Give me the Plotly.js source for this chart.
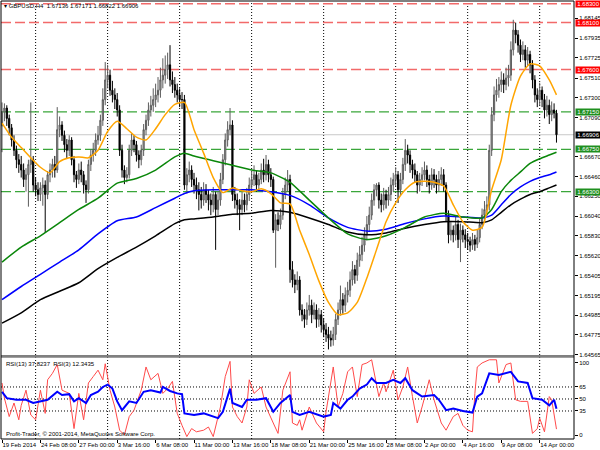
<!DOCTYPE html>
<html>
<head>
<meta charset="utf-8">
<script src="https://cdn.plot.ly/plotly-3.0.1.min.js"></script>
<style>html,body{margin:0;padding:0;background:#fff}#chart{width:600px;height:450px}</style>
</head>
<body>
<div id="chart"></div>
<script>
// ---------- DATA (GBPUSD, H4) ----------
const open = [1.6700,1.6715,1.6719,1.6708,1.6698,1.6685,1.6674,1.6664,1.6659,1.6653,
1.6643,1.6648,1.6659,1.6664,1.6637,1.6632,1.6627,1.6634,1.6637,1.6627,
1.6648,1.6653,1.6659,1.6653,1.6696,1.6701,1.6690,1.6680,1.6674,1.6685,
1.6664,1.6648,1.6643,1.6653,1.6648,1.6637,1.6632,1.6659,1.6669,1.6674,
1.6685,1.6690,1.6706,1.6728,1.6749,1.6754,1.6738,1.6733,1.6728,1.6717,
1.6674,1.6653,1.6645,1.6648,1.6674,1.6685,1.6680,1.6669,1.6664,1.6674,
1.6696,1.6706,1.6717,1.6722,1.6728,1.6733,1.6738,1.6749,1.6754,1.6760,
1.6765,1.6749,1.6744,1.6738,1.6733,1.6728,1.6728,1.6637,1.6648,1.6653,
1.6643,1.6637,1.6632,1.6627,1.6621,1.6632,1.6627,1.6621,1.6616,1.6627,
1.6611,1.6621,1.6643,1.6664,1.6685,1.6696,1.6701,1.6627,1.6621,1.6616,
1.6611,1.6621,1.6616,1.6627,1.6637,1.6643,1.6648,1.6637,1.6643,1.6653,
1.6648,1.6659,1.6648,1.6643,1.6589,1.6600,1.6595,1.6605,1.6627,1.6637,
1.6643,1.6547,1.6536,1.6531,1.6536,1.6504,1.6499,1.6494,1.6504,1.6509,
1.6499,1.6504,1.6494,1.6499,1.6488,1.6483,1.6478,1.6474,1.6472,1.6478,
1.6494,1.6504,1.6515,1.6509,1.6520,1.6525,1.6536,1.6547,1.6541,1.6557,
1.6563,1.6573,1.6584,1.6595,1.6605,1.6621,1.6632,1.6637,1.6621,1.6616,
1.6627,1.6621,1.6627,1.6637,1.6643,1.6648,1.6632,1.6643,1.6659,1.6674,
1.6669,1.6659,1.6653,1.6648,1.6637,1.6643,1.6648,1.6653,1.6643,1.6637,
1.6648,1.6643,1.6637,1.6643,1.6648,1.6637,1.6605,1.6584,1.6589,1.6584,
1.6595,1.6579,1.6589,1.6584,1.6579,1.6577,1.6573,1.6579,1.6574,1.6581,
1.6595,1.6605,1.6611,1.6616,1.6674,1.6712,1.6733,1.6738,1.6744,1.6749,
1.6744,1.6751,1.6754,1.6781,1.6802,1.6797,1.6786,1.6776,1.6781,1.6770,
1.6776,1.6765,1.6749,1.6733,1.6728,1.6738,1.6728,1.6717,1.6722,1.6712,
1.6717,1.67136];

const high = [1.6725,1.6724,1.6722,1.6712,1.6702,1.6690,1.6679,1.6670,1.6668,1.6660,
1.6655,1.6664,1.6725,1.6668,1.6645,1.6640,1.6640,1.6645,1.6642,1.6652,
1.6660,1.6665,1.6668,1.6720,1.6710,1.6705,1.6695,1.6686,1.6690,1.6688,
1.6668,1.6652,1.6660,1.6662,1.6652,1.6642,1.6664,1.6675,1.6682,1.6692,
1.6700,1.6712,1.6740,1.6768,1.6765,1.6760,1.6748,1.6740,1.6735,1.6722,
1.6680,1.6658,1.6656,1.6680,1.6692,1.6690,1.6684,1.6674,1.6680,1.6702,
1.6712,1.6725,1.6732,1.6740,1.6745,1.6752,1.6762,1.6772,1.6775,1.6778,
1.6786,1.6758,1.6752,1.6745,1.6740,1.6736,1.6733,1.6655,1.6662,1.6658,
1.6650,1.6645,1.6640,1.6635,1.6640,1.6638,1.6632,1.6628,1.6635,1.6630,
1.6630,1.6650,1.6670,1.6692,1.6705,1.6719,1.6706,1.6635,1.6628,1.6622,
1.6630,1.6628,1.6634,1.6645,1.6652,1.6658,1.6652,1.6650,1.6660,1.6665,
1.6669,1.6664,1.6655,1.6646,1.6606,1.6608,1.6612,1.6634,1.6645,1.6653,
1.6648,1.6556,1.6542,1.6545,1.6540,1.6510,1.6505,1.6512,1.6520,1.6515,
1.6512,1.6510,1.6506,1.6504,1.6495,1.6490,1.6486,1.6482,1.6486,1.6500,
1.6512,1.6530,1.6522,1.6528,1.6534,1.6545,1.6556,1.6552,1.6565,1.6572,
1.6582,1.6592,1.6604,1.6614,1.6628,1.6638,1.6639,1.6640,1.6628,1.6634,
1.6632,1.6635,1.6645,1.6650,1.6656,1.6652,1.6650,1.6666,1.6686,1.6680,
1.6674,1.6664,1.6660,1.6652,1.6650,1.6656,1.6662,1.6658,1.6648,1.6655,
1.6654,1.6648,1.6652,1.6656,1.6654,1.6640,1.6610,1.6598,1.6594,1.6604,
1.6600,1.6596,1.6594,1.6590,1.6586,1.6582,1.6586,1.6584,1.6590,1.6602,
1.6612,1.6620,1.6625,1.6680,1.6720,1.6742,1.6750,1.6752,1.6758,1.6756,
1.6762,1.6765,1.6790,1.6813,1.6810,1.6802,1.6792,1.6790,1.6786,1.6784,
1.6780,1.6770,1.6754,1.6740,1.6746,1.6742,1.6734,1.6732,1.6728,1.6726,
1.6724,1.67171];

const low = [1.6672,1.6705,1.6700,1.6690,1.6678,1.6668,1.6655,1.6650,1.6645,1.6635,
1.6630,1.6614,1.6650,1.6630,1.6625,1.6620,1.6620,1.6615,1.6586,1.6622,
1.6640,1.6645,1.6645,1.6650,1.6688,1.6684,1.6672,1.6665,1.6668,1.6658,
1.6640,1.6634,1.6638,1.6640,1.6628,1.6618,1.6628,1.6652,1.6662,1.6668,
1.6680,1.6684,1.6700,1.6722,1.6740,1.6732,1.6725,1.6718,1.6710,1.6668,
1.6645,1.6638,1.6640,1.6644,1.6668,1.6672,1.6662,1.6655,1.6658,1.6668,
1.6690,1.6700,1.6710,1.6715,1.6720,1.6725,1.6730,1.6740,1.6745,1.6750,
1.6742,1.6735,1.6730,1.6725,1.6720,1.6718,1.6632,1.6628,1.6640,1.6635,
1.6628,1.6622,1.6610,1.6612,1.6615,1.6618,1.6610,1.6605,1.6608,1.6568,
1.6605,1.6615,1.6638,1.6658,1.6678,1.6690,1.6620,1.6612,1.6605,1.6589,
1.6605,1.6608,1.6610,1.6620,1.6630,1.6636,1.6630,1.6632,1.6638,1.6640,
1.6642,1.6640,1.6635,1.6586,1.6549,1.6588,1.6590,1.6600,1.6622,1.6630,
1.6533,1.6528,1.6522,1.6525,1.6498,1.6492,1.6485,1.6488,1.6498,1.6490,
1.6494,1.6485,1.6486,1.6480,1.6475,1.6470,1.6462,1.6465,1.6466,1.6472,
1.6488,1.6498,1.6500,1.6502,1.6512,1.6518,1.6530,1.6532,1.6535,1.6550,
1.6556,1.6566,1.6578,1.6588,1.6600,1.6615,1.6625,1.6612,1.6608,1.6610,
1.6612,1.6615,1.6620,1.6630,1.6636,1.6618,1.6626,1.6638,1.6652,1.6660,
1.6650,1.6644,1.6640,1.6628,1.6630,1.6636,1.6642,1.6635,1.6628,1.6632,
1.6634,1.6628,1.6630,1.6636,1.6630,1.6598,1.6575,1.6578,1.6576,1.6578,
1.6570,1.6555,1.6576,1.6570,1.6568,1.6566,1.6568,1.6567,1.6570,1.6576,
1.6590,1.6600,1.6604,1.6610,1.6668,1.6705,1.6726,1.6730,1.6736,1.6735,
1.6738,1.6742,1.6748,1.6775,1.6788,1.6778,1.6768,1.6770,1.6762,1.6764,
1.6756,1.6740,1.6725,1.6720,1.6722,1.6720,1.6708,1.6710,1.6702,1.6705,
1.6708,1.66822];

const close = [1.6715,1.6719,1.6708,1.6698,1.6685,1.6674,1.6664,1.6659,1.6653,1.6643,
1.6648,1.6659,1.6664,1.6637,1.6632,1.6627,1.6634,1.6637,1.6627,1.6648,
1.6653,1.6659,1.6653,1.6696,1.6701,1.6690,1.6680,1.6674,1.6685,1.6664,
1.6648,1.6643,1.6653,1.6648,1.6637,1.6632,1.6659,1.6669,1.6674,1.6685,
1.6690,1.6706,1.6728,1.6749,1.6754,1.6738,1.6733,1.6728,1.6717,1.6674,
1.6653,1.6645,1.6648,1.6674,1.6685,1.6680,1.6669,1.6664,1.6674,1.6696,
1.6706,1.6717,1.6722,1.6728,1.6733,1.6738,1.6749,1.6754,1.6760,1.6765,
1.6749,1.6744,1.6738,1.6733,1.6728,1.6728,1.6637,1.6648,1.6653,1.6643,
1.6637,1.6632,1.6627,1.6621,1.6632,1.6627,1.6621,1.6616,1.6627,1.6611,
1.6621,1.6643,1.6664,1.6685,1.6696,1.6701,1.6627,1.6621,1.6616,1.6611,
1.6621,1.6616,1.6627,1.6637,1.6643,1.6648,1.6637,1.6643,1.6653,1.6648,
1.6659,1.6648,1.6643,1.6589,1.6600,1.6595,1.6605,1.6627,1.6637,1.6643,
1.6547,1.6536,1.6531,1.6536,1.6504,1.6499,1.6494,1.6504,1.6509,1.6499,
1.6504,1.6494,1.6499,1.6488,1.6483,1.6478,1.6474,1.6472,1.6478,1.6494,
1.6504,1.6515,1.6509,1.6520,1.6525,1.6536,1.6547,1.6541,1.6557,1.6563,
1.6573,1.6584,1.6595,1.6605,1.6621,1.6632,1.6637,1.6621,1.6616,1.6627,
1.6621,1.6627,1.6637,1.6643,1.6648,1.6632,1.6643,1.6659,1.6674,1.6669,
1.6659,1.6653,1.6648,1.6637,1.6643,1.6648,1.6653,1.6643,1.6637,1.6648,
1.6643,1.6637,1.6643,1.6648,1.6637,1.6605,1.6584,1.6589,1.6584,1.6595,
1.6579,1.6589,1.6584,1.6579,1.6577,1.6573,1.6579,1.6574,1.6581,1.6595,
1.6605,1.6611,1.6616,1.6674,1.6712,1.6733,1.6738,1.6744,1.6749,1.6744,
1.6751,1.6754,1.6781,1.6802,1.6797,1.6786,1.6776,1.6781,1.6770,1.6776,
1.6765,1.6749,1.6733,1.6728,1.6738,1.6728,1.6717,1.6722,1.6712,1.6717,
1.67136,1.66906];

const fastIdx = [0,4,8,12,16,20,24,28,32,36,40,44,48,52,56,60,64,68,72,76,80,84,88,92,96,100,104,108,112,116,120,124,128,132,136,140,144,148,152,156,160,164,168,172,176,180,184,188,192,196,200,204,208,212,216,220,224,228,231];
const maOrange = [1.6703,1.6688,1.6677,1.6666,1.6656,1.6650,1.6662,1.6666,1.6667,1.6666,
1.6674,1.6694,1.6705,1.6697,1.6688,1.6685,1.6697,1.6712,1.6723,1.6725,
1.6696,1.6671,1.6645,1.6629,1.6634,1.6631,1.6630,1.6633,1.6628,1.6618,
1.6617,1.6589,1.6563,1.6535,1.6512,1.6499,1.6501,1.6512,1.6538,1.6568,
1.6598,1.6618,1.6632,1.6640,1.6641,1.6640,1.6636,1.6616,1.6598,1.6589,
1.6592,1.6632,1.6664,1.6722,1.6753,1.6766,1.6764,1.6749,1.6733];
const slowIdx = [0,8,16,24,32,40,48,56,64,72,76,80,88,96,104,112,120,128,136,144,152,160,168,176,184,192,200,204,208,212,216,220,224,228,231];
const maGreen = [1.6555,1.6571,1.6583,1.6597,1.6611,1.6623,1.6639,1.6644,1.6653,1.6667,1.6671,1.6668,1.6663,1.6658,1.6653,1.6650,1.6640,1.6621,1.6602,1.6585,1.6579,1.6583,1.6592,1.6603,1.6607,1.6603,1.6602,1.6611,1.6630,1.6642,1.6651,1.6660,1.6665,1.6669,1.6672];
const maBlue = [1.6515,1.6529,1.6542,1.6555,1.6568,1.6585,1.6599,1.6603,1.6613,1.6623,1.6628,1.6631,1.6632,1.6632,1.6632,1.6630,1.6626,1.6616,1.6602,1.6592,1.6588,1.6590,1.6596,1.6601,1.6604,1.6603,1.6602,1.6605,1.6616,1.6627,1.6635,1.6641,1.6645,1.6648,1.6651];
const maBlack = [1.6490,1.6501,1.6515,1.6524,1.6533,1.6548,1.6560,1.6571,1.6583,1.6596,1.6600,1.6601,1.6603,1.6606,1.6607,1.6610,1.6608,1.6602,1.6595,1.6587,1.6584,1.6586,1.6591,1.6595,1.6598,1.6598,1.6597,1.6600,1.6608,1.6616,1.6622,1.6627,1.6630,1.6634,1.6637];

// RSI(13) and RSI(3)
const rsi13Idx = [0,2,6,10,13,16,19,23,25,28,30,32,35,37,40,42,44,46,48,50,53,56,59,62,66,67,70,73,75,76,80,84,88,90,92,95,96,100,102,106,110,113,116,120,121,124,128,134,137,138,141,144,146,149,152,154,156,160,163,166,168,171,175,180,182,185,188,192,196,198,200,203,207,212,215,219,221,225,228,230,231];
const rsi13 = [59,51,49,49,45,47,49,59,55,56,47,51,45,55,59,65,68,63,47,36,47,45,59,61,58,65,60,57,56,32,30,32,28,26,34,63,45,40,49,49,51,34,45,55,34,30,34,28,30,45,38,49,53,63,68,76,70,70,74,70,76,61,53,55,49,36,38,35,33,53,57,82,80,84,72,70,51,49,42,49,37.82];
const rsi3Idx = [0,1,3,5,7,8,10,12,14,16,18,19,21,23,25,28,30,32,34,36,38,40,42,43,45,47,49,51,53,55,58,60,62,65,67,69,71,73,75,77,79,81,84,86,88,91,93,95,96,98,100,102,103,105,108,110,113,115,117,119,120,121,123,124,125,128,131,134,135,138,140,142,144,146,148,150,152,154,155,157,159,160,163,164,165,167,169,171,173,175,178,180,183,185,188,190,192,194,196,197,198,200,203,206,207,210,212,214,216,219,220,221,223,224,226,228,229,231];
const rsi3 = [70,51,28,45,24,42,61,30,24,61,32,74,82,93,61,57,13,57,24,70,78,86,74,94,61,40,11,5,28,36,61,90,74,82,57,63,72,32,17,3,13,9,11,15,3,40,78,97,40,28,20,40,74,57,65,40,20,7,61,78,84,20,17,24,11,40,20,9,34,90,40,57,84,90,53,93,95,99,82,53,70,59,86,70,49,65,90,53,20,40,74,49,20,11,28,32,17,11,9,57,90,95,99,99,70,93,95,49,47,47,24,7,13,26,9,53,49,12.34];

// axis ticks / labels
const timeTickIdx = [0,16,32,48,64,80,96,112,128,144,160,176,192,208,224];
const timeTickLabels = ['19 Feb 2014','24 Feb 08:00','27 Feb 00:00','3 Mar 16:00','6 Mar 08:00','11 Mar 00:00','13 Mar 16:00','18 Mar 08:00','21 Mar 00:00','25 Mar 16:00','28 Mar 08:00','2 Apr 00:00','4 Apr 16:00','9 Apr 08:00','14 Apr 00:00'];
const gridIdx = [14,44,74,104,134,164,194,224];
const priceTicks = [1.68145,1.67935,1.67725,1.67510,1.67300,1.67090,1.66670,1.66460,1.66250,1.66040,1.65830,1.65620,1.65405,1.65195,1.64985,1.64775,1.64565];
const resistLevels = [1.68300,1.68100,1.67600];
const supportLevels = [1.67150,1.66750,1.66300];
const lastPrice = 1.66906;
const rsiLevels = [65,50,35];
const rsiTickVals = [95,65,50,35,5];
const rsiTickText = ['100','65','50','35','0'];
const headerText = '▾ GBPUSD,H4  1.67136 1.67171 1.66822 1.66906';
const rsiText = 'RSI(13) 37.8237  RSI(3) 12.3435';
const copyText = 'Profit-Trader, © 2001-2014, MetaQuotes Software Corp.';

// ---------- STYLE ----------
const FONT = 'Liberation Sans, Arial, sans-serif';
const RED = '#f26a6a', GREEN = '#3aa63a';
const barIdx = close.map((_, i) => i);
const xr = [-0.42, 238.3];

const traces = [
  {type:'candlestick', x:barIdx, open:open, high:high, low:low, close:close,
   xaxis:'x', yaxis:'y', whiskerwidth:0, hoverinfo:'skip',
   increasing:{line:{color:'#5c5c5c', width:1}, fillcolor:'#a8a8a8'},
   decreasing:{line:{color:'#000000', width:1}, fillcolor:'#000000'}},
  {type:'scatter', mode:'lines', x:slowIdx, y:maBlack, xaxis:'x', yaxis:'y', line:{color:'#000000', width:1.5, shape:'spline', smoothing:0.6}, hoverinfo:'skip'},
  {type:'scatter', mode:'lines', x:slowIdx, y:maBlue, xaxis:'x', yaxis:'y', line:{color:'#0000ff', width:1.5, shape:'spline', smoothing:0.6}, hoverinfo:'skip'},
  {type:'scatter', mode:'lines', x:slowIdx, y:maGreen, xaxis:'x', yaxis:'y', line:{color:'#0a870a', width:1.5, shape:'spline', smoothing:0.6}, hoverinfo:'skip'},
  {type:'scatter', mode:'lines', x:fastIdx, y:maOrange, xaxis:'x', yaxis:'y', line:{color:'#ffa500', width:1.5, shape:'spline', smoothing:0.6}, hoverinfo:'skip'},
  {type:'scatter', mode:'lines', x:rsi3Idx, y:rsi3, xaxis:'x2', yaxis:'y2', line:{color:'#ff4a4a', width:1}, hoverinfo:'skip'},
  {type:'scatter', mode:'lines', x:rsi13Idx, y:rsi13, xaxis:'x2', yaxis:'y2', line:{color:'#0000ff', width:2}, hoverinfo:'skip'}
];

const shapes = [];
gridIdx.forEach(g => shapes.push({type:'line', xref:'x', yref:'paper', x0:g, x1:g, y0:0, y1:1, layer:'below', line:{color:'#000', width:1, dash:'1px,2px'}}));
resistLevels.forEach(v => shapes.push({type:'line', xref:'paper', yref:'y', x0:0, x1:1, y0:v, y1:v, layer:'below', line:{color:RED, width:1.5, dash:'10px,4px'}}));
supportLevels.forEach(v => shapes.push({type:'line', xref:'paper', yref:'y', x0:0, x1:1, y0:v, y1:v, layer:'below', line:{color:GREEN, width:1.3, dash:'10px,4px'}}));
shapes.push({type:'line', xref:'paper', yref:'y', x0:0, x1:1, y0:lastPrice, y1:lastPrice, layer:'below', line:{color:'#c8c8c8', width:1}});
rsiLevels.forEach(v => shapes.push({type:'line', xref:'paper', yref:'y2', x0:0, x1:1, y0:v, y1:v, layer:'below', line:{color:'#000', width:1, dash:'1px,2px'}}));
shapes.push({type:'rect', xref:'paper', yref:'paper', x0:0, x1:1, y0:0.1855, y1:0.1920, fillcolor:'#808080', line:{width:0}});
shapes.push({type:'rect', xref:'paper', yref:'paper', x0:0, x1:1, y0:0, y1:1, line:{color:'#000', width:1}});

const annotations = [];
const box = (v, col) => ({xref:'paper', yref:'y', x:1, y:v, xanchor:'left', yanchor:'middle', xshift:1,
  text:v.toFixed(5), showarrow:false, bgcolor:col, width:25, height:6, borderpad:0, align:'center',
  font:{family:FONT, size:6, color:'#ffffff'}});
resistLevels.forEach(v => annotations.push(box(v, '#ff0000')));
supportLevels.forEach(v => annotations.push(box(v, '#1f8f1f')));
annotations.push(box(lastPrice, '#000000'));
annotations.push({xref:'paper', yref:'paper', x:0.002, y:0.9885, xanchor:'left', yanchor:'middle', text:headerText, showarrow:false, font:{family:FONT, size:6, color:'#000'}});
annotations.push({xref:'paper', yref:'paper', x:0.005, y:0.171, xanchor:'left', yanchor:'middle', text:rsiText, showarrow:false, font:{family:FONT, size:6, color:'#000'}});
annotations.push({xref:'paper', yref:'paper', x:0.005, y:0.012, xanchor:'left', yanchor:'middle', text:copyText, showarrow:false, font:{family:FONT, size:6, color:'#000'}});

const layout = {
  width:600, height:450,
  margin:{l:1, r:26, t:1, b:11},
  paper_bgcolor:'#ffffff', plot_bgcolor:'#ffffff',
  showlegend:false,
  font:{family:FONT, size:6, color:'#000'},
  xaxis:{domain:[0,1], anchor:'y', range:xr, showticklabels:false, showgrid:false, zeroline:false, ticks:'', rangeslider:{visible:false}, fixedrange:true},
  xaxis2:{domain:[0,1], anchor:'y2', range:xr, showgrid:false, zeroline:false,
    tickvals:timeTickIdx, ticktext:timeTickLabels, ticks:'outside', ticklen:3, tickcolor:'#000', tickangle:0,
    ticklabelposition:'outside right', tickfont:{family:FONT, size:6, color:'#000'}, automargin:false, fixedrange:true},
  yaxis:{domain:[0.1895,1], anchor:'x', side:'right', range:[1.6455,1.6833], showgrid:false, zeroline:false,
    tickvals:priceTicks, ticktext:priceTicks.map(v => v.toFixed(5)), ticks:'outside', ticklen:3, tickcolor:'#000',
    tickfont:{family:FONT, size:6, color:'#000'}, automargin:false, fixedrange:true},
  yaxis2:{domain:[0,0.185], anchor:'x2', side:'right', range:[0,101.25], showgrid:false, zeroline:false,
    tickvals:rsiTickVals, ticktext:rsiTickText, ticks:'outside', ticklen:3, tickcolor:'#000',
    tickfont:{family:FONT, size:6, color:'#000'}, automargin:false, fixedrange:true},
  shapes:shapes,
  annotations:annotations
};

Plotly.newPlot('chart', traces, layout, {staticPlot:true, displayModeBar:false});
</script>
</body>
</html>
